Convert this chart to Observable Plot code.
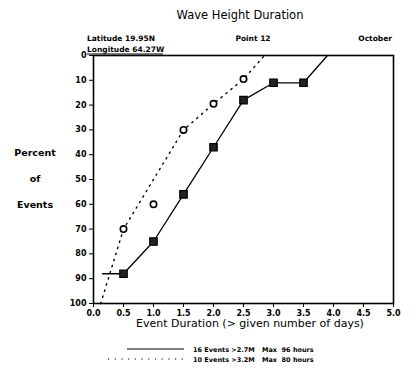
<!DOCTYPE html>
<html><head><meta charset="utf-8">
<script src="https://cdn.jsdelivr.net/npm/d3@7"></script>
<script src="https://cdn.jsdelivr.net/npm/@observablehq/plot@0.6"></script>
<style>body{margin:0;background:#fff}</style>
</head><body><div id="chart"></div>
<script>
// Solid series (16 events > 2.7M)
const solidLineX = [0.15, 0.5, 1.0, 1.5, 2.0, 2.5, 3.0, 3.5, 3.9];
const solidLineY = [88, 88, 75, 56, 37, 18, 11, 11, 0];
const solidMarkX = [0.5, 1.0, 1.5, 2.0, 2.5, 3.0, 3.5];
const solidMarkY = [88, 75, 56, 37, 18, 11, 11];
// Dotted series (10 events > 3.2M)
const dotLineX = [0.12, 0.5, 1.5, 2.0, 2.5, 2.85];
const dotLineY = [100, 70, 30, 19.5, 9.5, 0];
const dotMarkX = [0.5, 1.0, 1.5, 2.0, 2.5];
const dotMarkY = [70, 60, 30, 19.5, 9.5];
const xTicks = [0, 0.5, 1, 1.5, 2, 2.5, 3, 3.5, 4, 4.5, 5];
const yTicks = [0, 10, 20, 30, 40, 50, 60, 70, 80, 90, 100];

const solidLine = solidLineX.map((x, i) => ({x, y: solidLineY[i]}));
const solidMarks = solidMarkX.map((x, i) => ({x, y: solidMarkY[i]}));
const dotLine = dotLineX.map((x, i) => ({x, y: dotLineY[i]}));
const dotMarks = dotMarkX.map((x, i) => ({x, y: dotMarkY[i]}));

const font = "DejaVu Sans";
const chart = Plot.plot({
  width: 413, height: 368,
  marginTop: 55, marginBottom: 65, marginLeft: 93, marginRight: 20,
  style: {fontFamily: font, fontSize: "8px", fontWeight: "bold", background: "#fff", color: "#000"},
  x: {domain: [0, 5], ticks: xTicks, tickFormat: d3.format(".1f"), tickSize: 4, label: null},
  y: {domain: [0, 100], reverse: true, ticks: yTicks, tickSize: 4, label: null},
  marks: [
    Plot.frame({stroke: "#000", strokeWidth: 1.6}),
    Plot.axisX({ticks: xTicks, tickFormat: d3.format(".1f"), tickSize: 4, label: null, tickPadding: 3}),
    Plot.axisY({ticks: yTicks, tickSize: 4, label: null, tickPadding: 3}),
    Plot.line(dotLine, {x: "x", y: "y", stroke: "#000", strokeWidth: 1.4, strokeDasharray: "1.4 5", strokeLinecap: "round"}),
    Plot.line(solidLine, {x: "x", y: "y", stroke: "#000", strokeWidth: 1.3}),
    Plot.dot(dotMarks, {x: "x", y: "y", r: 3.2, stroke: "#000", strokeWidth: 1.6, fill: "#fff"}),
    Plot.dot(solidMarks, {x: "x", y: "y", r: 4.2, symbol: "square", stroke: "#000", strokeWidth: 1.2, fill: "#222"})
  ]
});

const svg = d3.select(chart);
function txt(x, y, s, size, anchor = "start", weight = "bold") {
  svg.append("text").attr("x", x).attr("y", y).attr("font-family", font)
    .attr("font-size", size).attr("font-weight", weight).attr("text-anchor", anchor)
    .attr("fill", "#000").text(s);
}
txt(240, 19, "Wave Height Duration", 11.5, "middle", "normal");
txt(87, 41, "Latitude 19.95N", 7.5);
txt(87, 52, "Longitude 64.27W", 7.5);
txt(253, 41, "Point 12", 7.5, "middle");
txt(392, 41, "October", 7.5, "end");
svg.append("line").attr("x1", 87).attr("x2", 163).attr("y1", 54).attr("y2", 54).attr("stroke", "#000").attr("stroke-width", 1);
txt(35, 156, "Percent", 9.5, "middle");
txt(35, 182, "of", 9.5, "middle");
txt(35, 208, "Events", 9.5, "middle");
txt(250, 327, "Event Duration (> given number of days)", 11, "middle", "normal");
// legend
svg.append("line").attr("x1", 127).attr("x2", 184).attr("y1", 349).attr("y2", 349).attr("stroke", "#000").attr("stroke-width", 1);
svg.append("line").attr("x1", 108).attr("x2", 186).attr("y1", 359).attr("y2", 359).attr("stroke", "#000")
  .attr("stroke-width", 1.2).attr("stroke-dasharray", "1.2 5.5");
txt(193, 352, "16 Events >2.7M", 6.5);
txt(262, 352, "Max  96 hours", 6.5);
txt(193, 362, "10 Events >3.2M", 6.5);
txt(262, 362, "Max  80 hours", 6.5);

document.getElementById("chart").appendChild(chart);
</script>
</body></html>
